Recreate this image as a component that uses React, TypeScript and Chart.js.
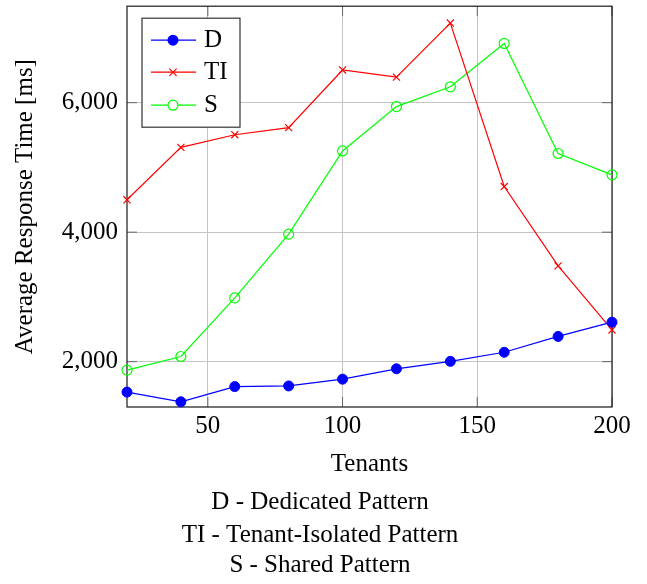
import React, { useEffect, useRef } from "react";
import { Chart, registerables } from "chart.js";

Chart.register(...registerables);

const tenants = [20, 40, 60, 80, 100, 120, 140, 160, 180, 200];
const dedicated = [1530, 1380, 1615, 1625, 1730, 1890, 2005, 2145, 2390, 2610];
const tenantIsolated = [4500, 5310, 5505, 5615, 6505, 6395, 7230, 4705, 3480, 2490];
const shared = [1870, 2080, 2985, 3970, 5255, 5940, 6245, 6915, 5215, 4885];

const seriesLabels = ["D", "TI", "S"];
const seriesColors = ["#0000ff", "#ff0000", "#00ff00"];
const xTicks = [50, 100, 150, 200];
const yTicks = [2000, 4000, 6000];
const xTitle = "Tenants";
const yTitle = "Average Response Time [ms]";
const captionLines = [
  "D - Dedicated Pattern",
  "TI - Tenant-Isolated Pattern",
  "S - Shared Pattern",
];

const FAMILY = "'Liberation Serif', 'Times New Roman', serif";
const FONT_SIZE = 25;

const framePlugin = {
  id: "pgfFrame",
  beforeDatasetsDraw(chart: any) {
    const { ctx, chartArea } = chart;
    const { left, right, top, bottom } = chartArea;
    const xs = chart.scales.x;
    const ys = chart.scales.y;
    ctx.save();
    ctx.strokeStyle = "#666666";
    ctx.lineWidth = 1;
    const tl = 10;
    xTicks.forEach((v) => {
      const p = xs.getPixelForValue(v);
      ctx.beginPath();
      ctx.moveTo(p, bottom);
      ctx.lineTo(p, bottom - tl);
      ctx.moveTo(p, top);
      ctx.lineTo(p, top + tl);
      ctx.stroke();
    });
    yTicks.forEach((v) => {
      const p = ys.getPixelForValue(v);
      ctx.beginPath();
      ctx.moveTo(left, p);
      ctx.lineTo(left + tl, p);
      ctx.moveTo(right, p);
      ctx.lineTo(right - tl, p);
      ctx.stroke();
    });
    ctx.strokeStyle = "#1a1a1a";
    ctx.lineWidth = 1.2;
    ctx.strokeRect(left, top, right - left, bottom - top);
    ctx.restore();
  },
};

const legendPlugin = {
  id: "pgfLegend",
  afterDatasetsDraw(chart: any) {
    const { ctx, chartArea } = chart;
    const bx = chartArea.left + 15;
    const by = chartArea.top + 12;
    const bw = 98;
    const bh = 109;
    ctx.save();
    ctx.fillStyle = "#ffffff";
    ctx.fillRect(bx, by, bw, bh);
    ctx.strokeStyle = "#333333";
    ctx.lineWidth = 1.2;
    ctx.strokeRect(bx, by, bw, bh);
    const rowY = [by + 22, by + 54, by + 87];
    seriesLabels.forEach((lab, i) => {
      const y = rowY[i];
      const c = seriesColors[i];
      ctx.strokeStyle = c;
      ctx.lineWidth = 1.2;
      ctx.beginPath();
      ctx.moveTo(bx + 9, y);
      ctx.lineTo(bx + 54, y);
      ctx.stroke();
      const mx = bx + 31;
      if (i === 0) {
        ctx.fillStyle = c;
        ctx.beginPath();
        ctx.arc(mx, y, 5.5, 0, Math.PI * 2);
        ctx.fill();
      } else if (i === 1) {
        const d = 3.6;
        ctx.beginPath();
        ctx.moveTo(mx - d, y - d);
        ctx.lineTo(mx + d, y + d);
        ctx.moveTo(mx - d, y + d);
        ctx.lineTo(mx + d, y - d);
        ctx.stroke();
      } else {
        ctx.fillStyle = "#ffffff";
        ctx.beginPath();
        ctx.arc(mx, y, 5, 0, Math.PI * 2);
        ctx.fill();
        ctx.stroke();
      }
      ctx.fillStyle = "#000000";
      ctx.font = `${FONT_SIZE}px ${FAMILY}`;
      ctx.textAlign = "left";
      ctx.textBaseline = "alphabetic";
      ctx.fillText(lab, bx + 62, y + 7);
    });
    ctx.restore();
  },
};

const captionPlugin = {
  id: "caption",
  afterDraw(chart: any) {
    const { ctx } = chart;
    ctx.save();
    ctx.fillStyle = "#000000";
    ctx.font = `${FONT_SIZE}px ${FAMILY}`;
    ctx.textAlign = "center";
    ctx.textBaseline = "alphabetic";
    const ys = [509, 542, 572];
    captionLines.forEach((t, i) => ctx.fillText(t, 320, ys[i]));
    ctx.restore();
  },
};

export default function App() {
  const ref = useRef<HTMLCanvasElement | null>(null);

  useEffect(() => {
    document.body.style.margin = "0";
    const canvas = ref.current;
    if (!canvas) return;
    const font = { family: FAMILY, size: FONT_SIZE, lineHeight: 1.2 };
    const mk = (vals: number[]) => tenants.map((x, i) => ({ x, y: vals[i] }));
    const chart = new Chart(canvas, {
      type: "line",
      data: {
        datasets: [
          {
            label: seriesLabels[0],
            data: mk(dedicated),
            borderColor: seriesColors[0],
            backgroundColor: seriesColors[0],
            pointBackgroundColor: seriesColors[0],
            pointStyle: "circle",
            pointRadius: 5,
            pointBorderWidth: 1,
            borderWidth: 1.2,
            tension: 0,
            clip: false,
          },
          {
            label: seriesLabels[1],
            data: mk(tenantIsolated),
            borderColor: seriesColors[1],
            backgroundColor: seriesColors[1],
            pointStyle: "crossRot",
            pointRadius: 5,
            pointBorderWidth: 1.2,
            borderWidth: 1.2,
            tension: 0,
            clip: false,
          },
          {
            label: seriesLabels[2],
            data: mk(shared),
            borderColor: seriesColors[2],
            backgroundColor: "rgba(0,0,0,0)",
            pointBackgroundColor: "rgba(0,0,0,0)",
            pointStyle: "circle",
            pointRadius: 5,
            pointBorderWidth: 1.2,
            borderWidth: 1.2,
            tension: 0,
            clip: false,
          },
        ],
      },
      options: {
        responsive: false,
        animation: false,
        events: [],
        layout: { padding: { left: 0, top: 5, right: 35, bottom: 0 } },
        plugins: {
          legend: { display: false },
          tooltip: { enabled: false },
          title: { display: false },
        },
        scales: {
          x: {
            type: "linear",
            min: 20,
            max: 200,
            afterBuildTicks: (s: any) => {
              s.ticks = xTicks.map((v) => ({ value: v }));
            },
            afterFit: (s: any) => {
              s.height = 177;
              s.paddingLeft = 0;
              s.paddingRight = 0;
            },
            ticks: {
              font,
              color: "#000000",
              padding: 4,
              maxRotation: 0,
              autoSkip: false,
              callback: (v: any) => String(v),
            },
            grid: { color: "#c4c4c4", lineWidth: 1, drawTicks: false },
            border: { display: false },
            title: {
              display: true,
              text: xTitle,
              font,
              color: "#000000",
              padding: { top: 0, bottom: 105 },
            },
          },
          y: {
            type: "linear",
            min: 1300,
            max: 7490,
            afterBuildTicks: (s: any) => {
              s.ticks = yTicks.map((v) => ({ value: v }));
            },
            afterFit: (s: any) => {
              s.width = 127;
              s.paddingTop = 0;
              s.paddingBottom = 0;
            },
            ticks: {
              font,
              color: "#000000",
              padding: 9,
              autoSkip: false,
              callback: (v: any) => Number(v).toLocaleString("en-US"),
            },
            grid: { color: "#c4c4c4", lineWidth: 1, drawTicks: false },
            border: { display: false },
            title: {
              display: true,
              text: yTitle,
              font,
              color: "#000000",
              padding: { top: 10, bottom: 0 },
            },
          },
        },
      },
      plugins: [framePlugin, legendPlugin, captionPlugin],
    });
    return () => chart.destroy();
  }, []);

  return (
    <div style={{ width: 647, height: 584, background: "#ffffff" }}>
      <canvas ref={ref} width={647} height={584} />
    </div>
  );
}
